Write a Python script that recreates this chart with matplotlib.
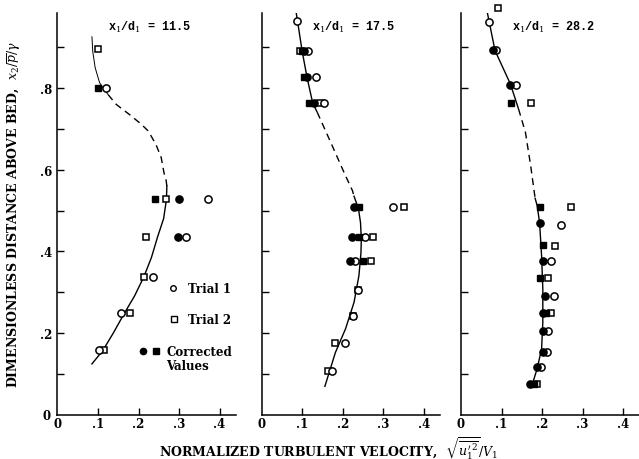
import matplotlib
matplotlib.use("Agg")
import matplotlib.pyplot as plt

plt.rcParams['mathtext.fontset'] = 'dejavuserif'

# ---------------- data ----------------
titles = ["11.5", "17.5", "28.2"]
xtick_vals = [0, 0.1, 0.2, 0.3, 0.4]
xtick_labels = ["0", ".1", ".2", ".3", ".4"]
ytick_vals = [0, 0.2, 0.4, 0.6, 0.8]
ytick_labels = ["0", ".2", ".4", ".6", ".8"]

# Panel 1 (x1/d1 = 11.5)
p1_trial1_x = [0.120, 0.371, 0.317, 0.235, 0.156, 0.102]
p1_trial1_y = [0.800, 0.529, 0.435, 0.337, 0.248, 0.157]
p1_trial2_x = [0.099, 0.269, 0.219, 0.214, 0.178, 0.116]
p1_trial2_y = [0.896, 0.529, 0.435, 0.337, 0.248, 0.157]
p1_corr_c_x = [0.300, 0.298]
p1_corr_c_y = [0.529, 0.435]
p1_corr_s_x = [0.100, 0.241]
p1_corr_s_y = [0.800, 0.529]
p1_top_x = [0.085, 0.087, 0.093, 0.104, 0.125]
p1_top_y = [0.927, 0.890, 0.850, 0.813, 0.784]
p1_dash_x = [0.125, 0.145, 0.178, 0.205, 0.224, 0.243, 0.256, 0.263, 0.268, 0.270]
p1_dash_y = [0.784, 0.760, 0.735, 0.713, 0.695, 0.662, 0.630, 0.592, 0.575, 0.560]
p1_low_x = [0.270, 0.269, 0.262, 0.247, 0.232, 0.213, 0.190, 0.165, 0.138, 0.112, 0.085]
p1_low_y = [0.560, 0.527, 0.480, 0.435, 0.385, 0.337, 0.290, 0.248, 0.200, 0.157, 0.124]

# Panel 2 (x1/d1 = 17.5)
p2_trial1_x = [0.087, 0.115, 0.133, 0.153, 0.325, 0.255, 0.230, 0.239, 0.225, 0.205, 0.174]
p2_trial1_y = [0.964, 0.890, 0.826, 0.763, 0.508, 0.436, 0.377, 0.306, 0.242, 0.175, 0.107]
p2_trial2_x = [0.095, 0.145, 0.352, 0.274, 0.269, 0.239, 0.225, 0.182, 0.164]
p2_trial2_y = [0.890, 0.763, 0.508, 0.436, 0.377, 0.306, 0.242, 0.175, 0.107]
p2_corr_c_x = [0.105, 0.113, 0.128, 0.228, 0.224, 0.217]
p2_corr_c_y = [0.890, 0.826, 0.763, 0.508, 0.436, 0.377]
p2_corr_s_x = [0.100, 0.104, 0.116, 0.240, 0.240, 0.250]
p2_corr_s_y = [0.890, 0.826, 0.763, 0.508, 0.436, 0.377]
p2_top_x = [0.085, 0.100, 0.112, 0.126, 0.137]
p2_top_y = [0.986, 0.890, 0.826, 0.763, 0.741]
p2_dash_x = [0.137, 0.174, 0.207, 0.224, 0.228]
p2_dash_y = [0.741, 0.659, 0.585, 0.549, 0.535]
p2_low_x = [0.228, 0.239, 0.244, 0.246, 0.245, 0.240, 0.228, 0.207, 0.182, 0.156]
p2_low_y = [0.535, 0.504, 0.470, 0.430, 0.395, 0.340, 0.275, 0.210, 0.152, 0.069]

# Panel 3 (x1/d1 = 28.2)
p3_trial1_x = [0.070, 0.087, 0.136, 0.248, 0.221, 0.229, 0.214, 0.213, 0.198]
p3_trial1_y = [0.963, 0.894, 0.808, 0.464, 0.377, 0.291, 0.204, 0.154, 0.116]
p3_trial2_x = [0.091, 0.174, 0.272, 0.231, 0.214, 0.223, 0.188]
p3_trial2_y = [0.996, 0.763, 0.508, 0.413, 0.335, 0.250, 0.075]
p3_corr_c_x = [0.079, 0.120, 0.196, 0.202, 0.208, 0.202, 0.202, 0.202, 0.188, 0.171]
p3_corr_c_y = [0.894, 0.808, 0.469, 0.377, 0.291, 0.250, 0.204, 0.154, 0.116, 0.075]
p3_corr_s_x = [0.123, 0.196, 0.202, 0.196, 0.210, 0.180]
p3_corr_s_y = [0.763, 0.508, 0.415, 0.335, 0.250, 0.075]
p3_top_x = [0.064, 0.084, 0.122, 0.142]
p3_top_y = [0.990, 0.892, 0.810, 0.749]
p3_dash_x = [0.142, 0.159, 0.172, 0.183]
p3_dash_y = [0.749, 0.692, 0.610, 0.530]
p3_low_x = [0.183, 0.188, 0.194, 0.199, 0.202, 0.202, 0.199, 0.188, 0.175]
p3_low_y = [0.530, 0.512, 0.471, 0.389, 0.308, 0.226, 0.161, 0.112, 0.071]

panels = [
    dict(t1=(p1_trial1_x, p1_trial1_y), t2=(p1_trial2_x, p1_trial2_y),
         cc=(p1_corr_c_x, p1_corr_c_y), cs=(p1_corr_s_x, p1_corr_s_y),
         top=(p1_top_x, p1_top_y), dash=(p1_dash_x, p1_dash_y), low=(p1_low_x, p1_low_y), toplw=0.7),
    dict(t1=(p2_trial1_x, p2_trial1_y), t2=(p2_trial2_x, p2_trial2_y),
         cc=(p2_corr_c_x, p2_corr_c_y), cs=(p2_corr_s_x, p2_corr_s_y),
         top=(p2_top_x, p2_top_y), dash=(p2_dash_x, p2_dash_y), low=(p2_low_x, p2_low_y), toplw=1.0),
    dict(t1=(p3_trial1_x, p3_trial1_y), t2=(p3_trial2_x, p3_trial2_y),
         cc=(p3_corr_c_x, p3_corr_c_y), cs=(p3_corr_s_x, p3_corr_s_y),
         top=(p3_top_x, p3_top_y), dash=(p3_dash_x, p3_dash_y), low=(p3_low_x, p3_low_y), toplw=1.0),
]

# ---------------- figure ----------------
W, H = 639, 460
fig = plt.figure(figsize=(W / 100, H / 100), dpi=100)
lefts_px = [57.5, 261.7, 461.0]
x_per_unit = 405.0
y_per_unit = 408.0
x0_px_bottom = 415.5
xmax, ymax = 0.44, 0.985

serif = "DejaVu Serif"
mono = "Liberation Mono"
tfs = 8.5

for i, (lp, p) in enumerate(zip(lefts_px, panels)):
    ax = fig.add_axes([lp / W, (H - x0_px_bottom) / H,
                       xmax * x_per_unit / W, ymax * y_per_unit / H])
    ax.set_xlim(0, xmax)
    ax.set_ylim(0, ymax)
    for s in ["top", "right"]:
        ax.spines[s].set_visible(False)
    for s in ["left", "bottom"]:
        ax.spines[s].set_linewidth(1.1)
    ax.set_xticks(xtick_vals[1:])
    ax.set_xticks([0], minor=True)
    ax.set_yticks([0.1, 0.2, 0.3, 0.4, 0.5, 0.6, 0.7, 0.8, 0.9])
    ax.tick_params(direction="in", length=5, width=1.0)
    ax.tick_params(which="minor", length=0)
    ax.set_xticklabels(xtick_labels[1:], fontfamily=serif, fontweight="bold", fontsize=tfs)
    ax.set_xticklabels(["0"], minor=True, fontfamily=serif, fontweight="bold", fontsize=tfs)
    ax.tick_params(axis="x", which="both", pad=2)
    if i == 0:
        ax.set_yticks([0], minor=True)
        ax.set_yticklabels(["", ".2", "", ".4", "", ".6", "", ".8", ""],
                           fontfamily=serif, fontweight="bold", fontsize=tfs)
        ax.set_yticklabels(["0"], minor=True, fontfamily=serif, fontweight="bold", fontsize=tfs)
        ax.tick_params(axis="y", which="minor", pad=5)
    else:
        ax.set_yticklabels([])

    # curves
    ax.plot(*p["top"], color="black", lw=p["toplw"], solid_capstyle="butt")
    ax.plot(*p["dash"], color="black", lw=1.0, dashes=(5, 3.5))
    ax.plot(*p["low"], color="black", lw=1.0)

    ms = 5.2
    ax.plot(*p["t2"], ls="none", marker="s", ms=ms - 0.5, mfc="white", mec="black", mew=1.1, clip_on=False, zorder=3)
    ax.plot(*p["t1"], ls="none", marker="o", ms=ms, mfc="white", mec="black", mew=1.1, clip_on=False, zorder=3)
    ax.plot(*p["cs"], ls="none", marker="s", ms=ms - 0.5, mfc="black", mec="black", clip_on=False, zorder=4)
    ax.plot(*p["cc"], ls="none", marker="o", ms=ms, mfc="black", mec="black", clip_on=False, zorder=4)

    ax.text(0.125, 0.952, r"x$_1$/d$_1$ = " + titles[i], fontfamily=mono, fontweight="bold",
            fontsize=8.5, ha="left", va="center")

    if i == 0:
        ax.plot([0.286], [0.309], marker="o", ms=4, mfc="white", mec="black", mew=1.0, ls="none")
        ax.text(0.322, 0.309, "Trial 1", fontfamily=serif, fontweight="bold", fontsize=8.5, va="center")
        ax.plot([0.288], [0.234], marker="s", ms=3.8, mfc="white", mec="black", mew=1.0, ls="none")
        ax.text(0.322, 0.234, "Trial 2", fontfamily=serif, fontweight="bold", fontsize=8.5, va="center")
        ax.plot([0.210], [0.155], marker="o", ms=4.5, mfc="black", mec="black", ls="none")
        ax.plot([0.243], [0.155], marker="s", ms=4.2, mfc="black", mec="black", ls="none")
        ax.text(0.268, 0.155, "Corrected", fontfamily=serif, fontweight="bold", fontsize=8.5, va="center")
        ax.text(0.268, 0.119, "Values", fontfamily=serif, fontweight="bold", fontsize=8.5, va="center")

fig.text(329 / W, 1 - 448 / H,
         r"NORMALIZED TURBULENT VELOCITY,  $\sqrt{\overline{u_1^{\prime\,2}}}/V_1$",
         fontfamily=serif, fontweight="bold", fontsize=9, ha="center", va="center")
fig.text(14 / W, 1 - 215 / H,
         r"DIMENSIONLESS DISTANCE ABOVE BED,  $x_2/\overline{p}/\gamma$",
         fontfamily=serif, fontweight="bold", fontsize=9, ha="center", va="center", rotation=90)

fig.savefig("out.png", dpi=100)
